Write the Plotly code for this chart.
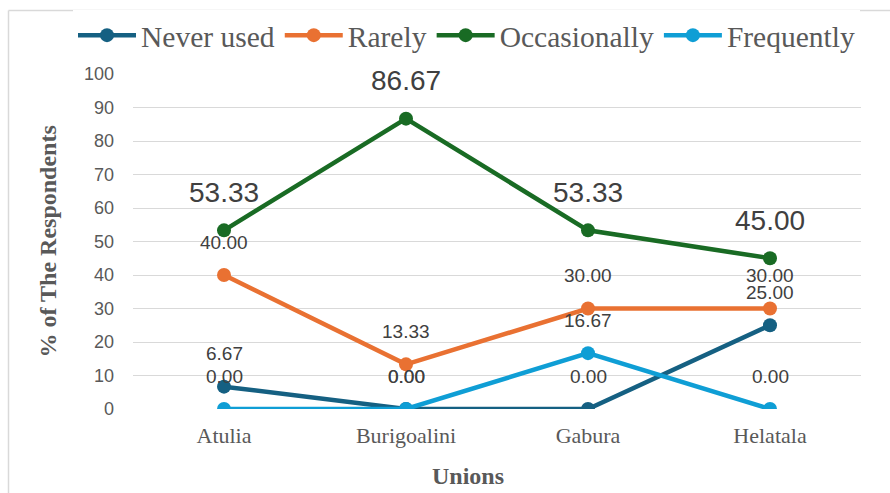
import plotly.graph_objects as go

unions = ["Atulia", "Burigoalini", "Gabura", "Helatala"]
never_used = [6.67, 0.00, 0.00, 25.00]
rarely = [40.00, 13.33, 30.00, 30.00]
occasionally = [53.33, 86.67, 53.33, 45.00]
frequently = [0.00, 0.00, 16.67, 0.00]
y_ticks = [0, 10, 20, 30, 40, 50, 60, 70, 80, 90, 100]

series = [
    ("Never used", never_used, "#156082"),
    ("Rarely", rarely, "#E97132"),
    ("Occasionally", occasionally, "#196B24"),
    ("Frequently", frequently, "#0F9ED5"),
]

fig = go.Figure()
for name, vals, col in series:
    fig.add_trace(go.Scatter(
        x=unions, y=vals, name=name, mode="lines+markers",
        line=dict(color=col, width=4.5),
        marker=dict(color=col, size=14),
    ))

annotations = []
for name, vals, col in series:
    big = name == "Occasionally"
    for u, v in zip(unions, vals):
        annotations.append(dict(
            x=u, y=v, xref="x", yref="y", text=f"{v:.2f}", showarrow=False,
            yshift=38 if big else 33,
            font=dict(family="Liberation Sans, Arial", size=28 if big else 19, color="#404040"),
        ))

annotations.append(dict(
    text="<b>% of The Respondents</b>", textangle=-90, showarrow=False,
    xref="paper", yref="paper", x=(47 - 133) / 728, y=0.5,
    xanchor="center", yanchor="middle",
    font=dict(family="Liberation Serif, Times New Roman", size=24, color="#595959"),
))
annotations.append(dict(
    text="<b>Unions</b>", showarrow=False,
    xref="paper", yref="paper", x=(468 - 133) / 728, y=(409 - 476) / 335,
    xanchor="center", yanchor="middle",
    font=dict(family="Liberation Serif, Times New Roman", size=24, color="#595959"),
))

fig.update_layout(
    width=890, height=493,
    margin=dict(l=133, r=29, t=74, b=84, autoexpand=False),
    paper_bgcolor="white", plot_bgcolor="white",
    showlegend=True,
    legend=dict(
        orientation="h", x=(73 - 133) / 728, xanchor="left",
        y=(409 - 35.5) / 335, yanchor="middle",
        font=dict(family="Liberation Serif, Times New Roman", size=29.5, color="#595959"),
        itemwidth=58, tracegroupgap=0,
    ),
    annotations=annotations,
    xaxis=dict(
        showgrid=False, zeroline=False, showline=False, ticks="",
        tickfont=dict(family="Liberation Serif, Times New Roman", size=22, color="#595959"),
        range=[-0.5, 3.5], ticklabelstandoff=11,
    ),
    yaxis=dict(
        range=[0, 100], tickvals=y_ticks, showgrid=True, gridcolor="#d9d9d9", gridwidth=1.3,
        zeroline=False, showline=False, ticks="",
        tickfont=dict(family="Liberation Sans, Arial", size=18, color="#595959"),
        ticklabelstandoff=18,
    ),
    shapes=[
        dict(type="line", xref="paper", yref="paper", x0=(8.5 - 133) / 728, x1=1.2,
             y0=(409 - 10.5) / 335, y1=(409 - 10.5) / 335, line=dict(color="#d9d9d9", width=1.5)),
        dict(type="line", xref="paper", yref="paper", x0=(8.5 - 133) / 728, x1=(8.5 - 133) / 728,
             y0=(409 - 10.5) / 335, y1=-0.5, line=dict(color="#d9d9d9", width=1.5)),
    ],
)

fig.write_html("out.html")
